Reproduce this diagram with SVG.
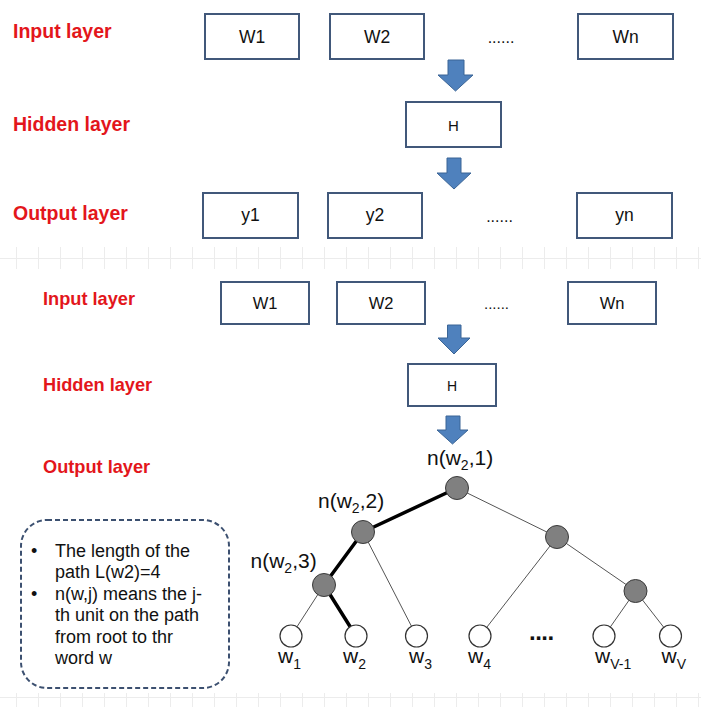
<svg xmlns="http://www.w3.org/2000/svg" width="701" height="707" viewBox="0 0 701 707">
<defs>
<style>
.lbl{font-family:"Liberation Sans",Arial,sans-serif;font-weight:bold;fill:#e3161b;}
.box{fill:#ffffff;stroke:#41587a;stroke-width:2;}
.bt{font-family:"Liberation Sans",Arial,sans-serif;fill:#111;text-anchor:middle;}
.arr{fill:#4f81bd;stroke:#3b6596;stroke-width:1;}
.grid{stroke:#ececec;stroke-width:1;fill:none;}
.thin{stroke:#555;stroke-width:1;fill:none;}
.thick{stroke:#000;stroke-width:3.5;fill:none;stroke-linejoin:round;}
.inner{fill:#808080;stroke:#3a3a3a;stroke-width:1;}
.leaf{fill:#fff;stroke:#333;stroke-width:1.2;}
.tl{font-family:"Liberation Sans",Arial,sans-serif;font-size:21px;fill:#111;}
.nt{font-family:"Liberation Sans",Arial,sans-serif;font-size:18px;fill:#111;}
</style>
</defs>
<rect x="0" y="0" width="701" height="707" fill="#ffffff"/>

<g id="grid">
<path class="grid" d="M0,258.5H701 M0,697.5H701"/>
<path class="grid" d="M16.5,247V269 M38.5,247V269 M60.5,247V269 M82.5,247V269 M104.5,247V269 M126.5,247V269 M148.5,247V269 M170.5,247V269 M192.5,247V269 M214.5,247V269 M236.5,247V269 M258.5,247V269 M280.5,247V269 M302.5,247V269 M324.5,247V269 M346.5,247V269 M368.5,247V269 M390.5,247V269 M412.5,247V269 M434.5,247V269 M456.5,247V269 M478.5,247V269 M500.5,247V269 M522.5,247V269 M544.5,247V269 M566.5,247V269 M588.5,247V269 M610.5,247V269 M632.5,247V269 M654.5,247V269 M676.5,247V269 M698.5,247V269"/>
<path class="grid" d="M16.5,693V707 M38.5,693V707 M60.5,693V707 M82.5,693V707 M104.5,693V707 M126.5,693V707 M148.5,693V707 M170.5,693V707 M192.5,693V707 M214.5,693V707 M236.5,693V707 M258.5,693V707 M280.5,693V707 M302.5,693V707 M324.5,693V707 M346.5,693V707 M368.5,693V707 M390.5,693V707 M412.5,693V707 M434.5,693V707 M456.5,693V707 M478.5,693V707 M500.5,693V707 M522.5,693V707 M544.5,693V707 M566.5,693V707 M588.5,693V707 M610.5,693V707 M632.5,693V707 M654.5,693V707 M676.5,693V707 M698.5,693V707"/>
</g>

<!-- Top section -->
<g id="labels-top">
<text class="lbl" x="13" y="38" font-size="19.5">Input layer</text>
<text class="lbl" x="13" y="131" font-size="19.5">Hidden layer</text>
<text class="lbl" x="13" y="220" font-size="19.5">Output layer</text>
</g>
<g id="top-W1"><rect class="box" x="205" y="14" width="94" height="45"/><text class="bt" x="252" y="43" font-size="17.5">W1</text></g>
<g id="top-W2"><rect class="box" x="330" y="14" width="94" height="45"/><text class="bt" x="377" y="43" font-size="17.5">W2</text></g>
<g id="top-dots-in"><text class="bt" x="501" y="43" font-size="16">......</text></g>
<g id="top-Wn"><rect class="box" x="578" y="14" width="95" height="45"/><text class="bt" x="625.5" y="43" font-size="17.5">Wn</text></g>
<g id="top-H"><rect class="box" x="406" y="102" width="95" height="45"/><text class="bt" x="453.5" y="130.5" font-size="15">H</text></g>
<g id="top-y1"><rect class="box" x="203" y="193" width="95" height="45"/><text class="bt" x="250.5" y="221" font-size="17.5">y1</text></g>
<g id="top-y2"><rect class="box" x="328" y="193" width="94" height="45"/><text class="bt" x="375" y="221" font-size="17.5">y2</text></g>
<g id="top-dots-out"><text class="bt" x="499.5" y="221.5" font-size="16">......</text></g>
<g id="top-yn"><rect class="box" x="577" y="193" width="95" height="45"/><text class="bt" x="624.5" y="221" font-size="17.5">yn</text></g>

<!-- Bottom section -->
<g id="labels-bottom">
<text class="lbl" x="43" y="305" font-size="18.2">Input layer</text>
<text class="lbl" x="43" y="391" font-size="18.2">Hidden layer</text>
<text class="lbl" x="43" y="473" font-size="18.2">Output layer</text>
</g>
<g id="bot-W1"><rect class="box" x="221" y="282" width="88" height="42"/><text class="bt" x="265" y="309" font-size="16.5">W1</text></g>
<g id="bot-W2"><rect class="box" x="337" y="282" width="88" height="42"/><text class="bt" x="381" y="309" font-size="16.5">W2</text></g>
<g id="bot-dots"><text class="bt" x="496.5" y="309" font-size="15">......</text></g>
<g id="bot-Wn"><rect class="box" x="568" y="282" width="88" height="42"/><text class="bt" x="612" y="309" font-size="16.5">Wn</text></g>
<g id="bot-H"><rect class="box" x="408" y="364" width="88" height="42"/><text class="bt" x="452" y="391" font-size="14">H</text></g>

<g id="connectors">
<path class="arr" d="M448,60H464V75H473L455.5,91L438,75H448Z"/>
<path class="arr" d="M447,158H461V173H471L454,189L437,173H447Z"/>
<path class="arr" d="M447.5,325H461V338H470L454,354L438,338H447.5Z"/>
<path class="arr" d="M446,416H460V430H468L452.5,444L437,430H446Z"/>
<line class="thin" x1="457" y1="488" x2="557" y2="537"/>
<line class="thin" x1="363" y1="532" x2="416.5" y2="636"/>
<line class="thin" x1="324" y1="585" x2="291" y2="636"/>
<line class="thin" x1="557" y1="537" x2="480" y2="636"/>
<line class="thin" x1="557" y1="537" x2="635.5" y2="591"/>
<line class="thin" x1="635.5" y1="591" x2="604" y2="636"/>
<line class="thin" x1="635.5" y1="591" x2="670.5" y2="636"/>
<path class="thick" d="M457,488L363,532L324,585L356,636"/>
</g>

<g id="n1"><circle class="inner" cx="457" cy="488" r="11.5"/><text class="tl" x="427" y="465">n(w<tspan font-size="14" dy="5">2</tspan><tspan dy="-5">,1)</tspan></text></g>
<g id="n2"><circle class="inner" cx="363" cy="532" r="11.5"/><text class="tl" x="318" y="508">n(w<tspan font-size="14" dy="5">2</tspan><tspan dy="-5">,2)</tspan></text></g>
<g id="n3"><circle class="inner" cx="324" cy="585" r="11.5"/><text class="tl" x="250.5" y="568">n(w<tspan font-size="14" dy="5">2</tspan><tspan dy="-5">,3)</tspan></text></g>
<g id="nR"><circle class="inner" cx="557" cy="537" r="11.5"/></g>
<g id="nRR"><circle class="inner" cx="635.5" cy="591" r="11.5"/></g>

<g id="w1"><circle class="leaf" cx="291" cy="636" r="11"/><text class="tl" x="278" y="663">w<tspan font-size="14" dy="6">1</tspan></text></g>
<g id="w2"><circle class="leaf" cx="356" cy="636" r="11" stroke="#000" stroke-width="3.5"/><text class="tl" x="343" y="663">w<tspan font-size="14" dy="6">2</tspan></text></g>
<g id="w3"><circle class="leaf" cx="416.5" cy="636" r="11"/><text class="tl" x="409" y="663">w<tspan font-size="14" dy="6">3</tspan></text></g>
<g id="w4"><circle class="leaf" cx="480" cy="636" r="11"/><text class="tl" x="468" y="663">w<tspan font-size="14" dy="6">4</tspan></text></g>
<g id="dots-leaf"><text x="529" y="640" font-family="Liberation Sans,Arial,sans-serif" font-weight="bold" font-size="24" fill="#111" letter-spacing="-0.5">....</text></g>
<g id="wV-1"><circle class="leaf" cx="604" cy="636" r="11"/><text class="tl" x="595" y="663">w<tspan font-size="14" dy="6">V-1</tspan></text></g>
<g id="wV"><circle class="leaf" cx="670.5" cy="636" r="11"/><text class="tl" x="661.5" y="663">w<tspan font-size="14" dy="6">V</tspan></text></g>

<g id="note">
<rect x="21" y="520" width="208" height="168" rx="26" ry="26" fill="none" stroke="#3c5070" stroke-width="2" stroke-dasharray="5,3"/>
<text class="nt" x="31" y="556.5">•</text>
<text class="nt" x="55" y="556.5">The length of the</text>
<text class="nt" x="55" y="578">path L(w2)=4</text>
<text class="nt" x="31" y="599.5">•</text>
<text class="nt" x="55" y="599.5">n(w,j) means the j-</text>
<text class="nt" x="55" y="621">th unit on the path</text>
<text class="nt" x="55" y="642.5">from root to thr</text>
<text class="nt" x="55" y="664">word w</text>
</g>
</svg>
